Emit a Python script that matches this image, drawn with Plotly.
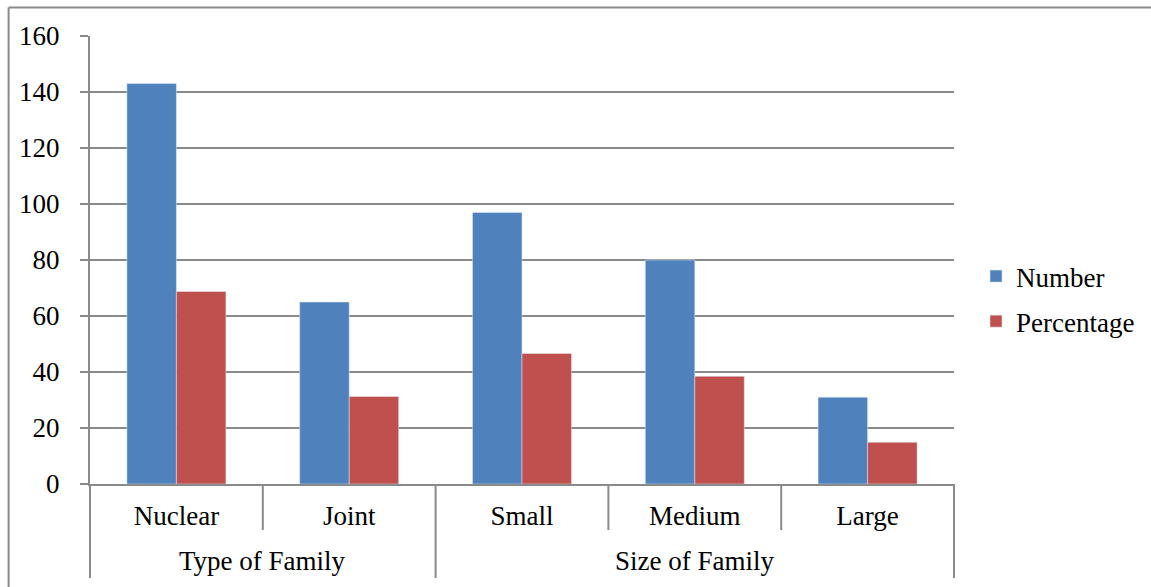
import plotly.graph_objects as go

outer_groups = ["Type of Family", "Size of Family"]
inner = ["Nuclear", "Joint", "Small", "Medium", "Large"]
number = [143, 65, 97, 80, 31]
percentage = [68.75, 31.25, 46.63, 38.46, 14.9]

W, H = 1151, 587
L, R, T, B = 90, 955, 36, 484
pw, ph = R - L, B - T

def px(x):
    return (x - L) / pw

def py(y):
    return (B - y) / ph

FONT = "'Liberation Serif', 'Times New Roman', serif"
GRAY = "#8a8a8a"
FS = 27

fig = go.Figure()
fig.add_trace(go.Bar(x=inner, y=number, name="Number", marker_color="#4F81BD",
                     legendgroup="a"))
fig.add_trace(go.Bar(x=inner, y=percentage, name="Percentage", marker_color="#C0504D",
                     legendgroup="b"))

shapes = []
# inner dividers
for i in [1, 3, 4]:
    shapes.append(dict(type="line", xref="paper", yref="paper", x0=i / 5, x1=i / 5,
                       y0=0, y1=py(530), line=dict(color=GRAY, width=2)))
# outer dividers
for i in [0, 2, 5]:
    shapes.append(dict(type="line", xref="paper", yref="paper", x0=i / 5, x1=i / 5,
                       y0=0, y1=py(578), line=dict(color=GRAY, width=2)))
# outer frame (top and left)
shapes.append(dict(type="line", xref="paper", yref="paper", x0=px(8.5), x1=px(1160),
                   y0=py(7.5), y1=py(7.5), line=dict(color=GRAY, width=2)))
shapes.append(dict(type="line", xref="paper", yref="paper", x0=px(8.5), x1=px(8.5),
                   y0=py(7.5), y1=py(600), line=dict(color=GRAY, width=2)))

annotations = [
    dict(text=outer_groups[0], xref="paper", yref="paper", x=1 / 5, y=py(561),
         showarrow=False, xanchor="center", yanchor="middle", font=dict(size=FS)),
    dict(text=outer_groups[1], xref="paper", yref="paper", x=3.5 / 5, y=py(561),
         showarrow=False, xanchor="center", yanchor="middle", font=dict(size=FS)),
]

fig.update_layout(
    width=W, height=H,
    margin=dict(l=L, r=W - R, t=T, b=H - B, pad=0),
    paper_bgcolor="white", plot_bgcolor="white",
    font=dict(family=FONT, size=FS, color="black"),
    barmode="group", bargap=0.427, bargroupgap=0,
    showlegend=True,
    legend=dict(x=px(976), y=py(299), xanchor="left", yanchor="middle",
                font=dict(size=FS), bgcolor="rgba(0,0,0,0)", tracegroupgap=7),
    shapes=shapes,
    annotations=annotations,
)
fig.update_yaxes(range=[0, 160], dtick=20, showgrid=True, gridcolor=GRAY, gridwidth=1.5,
                 showline=True, linecolor=GRAY, linewidth=2, ticks="outside", ticklen=8,
                 tickcolor=GRAY, tickwidth=1.5, ticklabelstandoff=15, zeroline=False,
                 tickfont=dict(size=FS))
fig.update_xaxes(showline=True, linecolor=GRAY, linewidth=2, ticks="",
                 ticklabelstandoff=7, tickfont=dict(size=FS))

fig.write_html("out.html")
